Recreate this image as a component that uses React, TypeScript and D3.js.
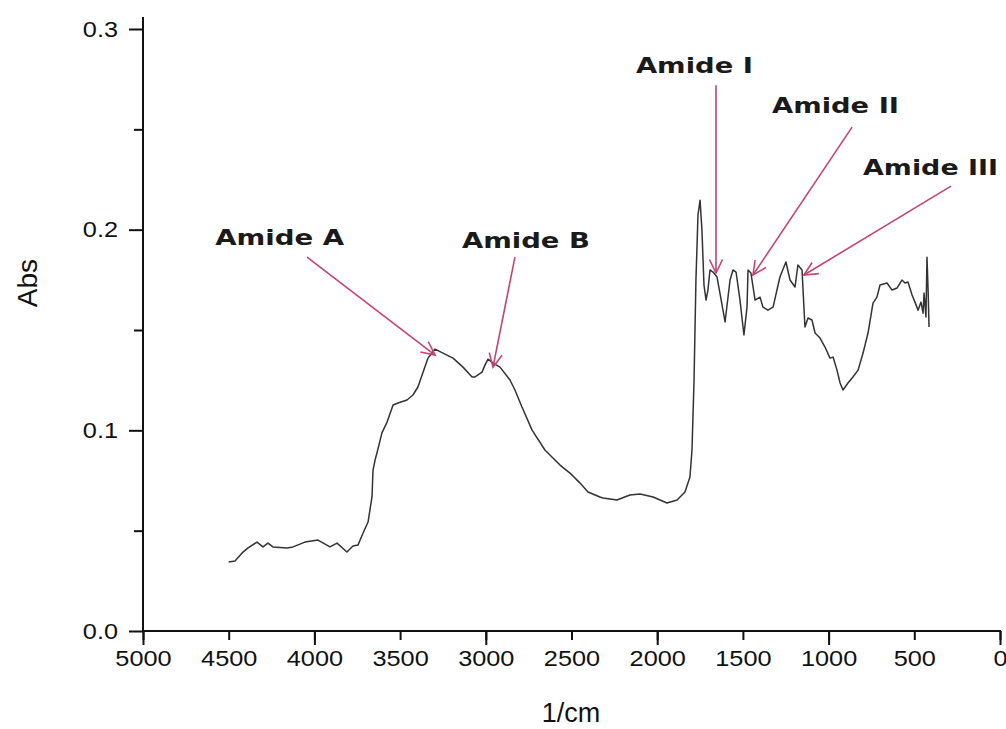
import { useEffect, useRef } from "react";
import * as d3 from "d3";

// FTIR spectrum (wavenumber in 1/cm, absorbance)
const wavenumbers = [
  4500, 4463, 4422, 4387, 4335, 4300, 4271, 4242, 4160, 4125, 4055, 3979, 3909, 3868, 3810, 3775, 3746,
  3716, 3687, 3664, 3658, 3646, 3635, 3606, 3576, 3541, 3512, 3460, 3425, 3396, 3384, 3337, 3296, 3250,
  3191, 3133, 3080, 3063, 3022, 3005, 2987, 2958, 2917, 2859, 2830, 2789, 2730, 2655, 2567, 2509, 2450,
  2404, 2334, 2316, 2235, 2159, 2100, 2024, 1943, 1884, 1838, 1809, 1797, 1785, 1774, 1762, 1750, 1739,
  1727, 1715, 1704, 1692, 1674, 1651, 1634, 1604, 1575, 1558, 1540, 1517, 1494, 1476, 1470, 1453, 1429,
  1400, 1383, 1354, 1324, 1284, 1249, 1225, 1196, 1179, 1155, 1138, 1120, 1097, 1079, 1050, 1021, 992,
  974, 951, 933, 916, 887, 858, 828, 799, 770, 741, 718, 700, 659, 630, 601, 572, 554, 537, 513, 496,
  478, 461, 449, 443, 432, 426, 420, 414,
];
const absorbance = [
  0.0344, 0.0349, 0.0389, 0.0414, 0.0443, 0.0419, 0.0438, 0.0419, 0.0414, 0.0419, 0.0443, 0.0453, 0.0419,
  0.0438, 0.0394, 0.0424, 0.0428, 0.0488, 0.0543, 0.0668, 0.0802, 0.0852, 0.0887, 0.0987, 0.1041, 0.1126,
  0.1136, 0.1151, 0.1176, 0.1216, 0.1246, 0.136, 0.1405, 0.1385, 0.136, 0.1315, 0.1266, 0.1266, 0.129,
  0.1325, 0.1355, 0.1335, 0.1315, 0.1251, 0.1201, 0.1116, 0.1001, 0.0902, 0.0827, 0.0787, 0.0737, 0.0693,
  0.0668, 0.0663, 0.0653, 0.0678, 0.0683, 0.0668, 0.0638, 0.0653, 0.0693, 0.0767, 0.0902, 0.1251, 0.1749,
  0.2073, 0.2147, 0.1998, 0.1724, 0.1649, 0.1699, 0.1799, 0.1789, 0.1764, 0.1684, 0.154, 0.1749, 0.1799,
  0.1789, 0.1649, 0.1475, 0.1614, 0.1799, 0.1784, 0.1649, 0.1664, 0.1614, 0.1599, 0.1614, 0.1764, 0.1839,
  0.1749, 0.1714, 0.1824, 0.1799, 0.1515, 0.156, 0.155, 0.1485, 0.146, 0.1415, 0.136, 0.1365, 0.13, 0.1236,
  0.1201, 0.1236, 0.1266, 0.13, 0.1385, 0.1485, 0.1634, 0.1664, 0.1724, 0.1734, 0.1699, 0.1709, 0.1749,
  0.1734, 0.1739, 0.1674, 0.1639, 0.1599, 0.1639, 0.1584, 0.1684, 0.1565, 0.1863, 0.1714, 0.1515,
];

const xTickLabels = [5000, 4500, 4000, 3500, 3000, 2500, 2000, 1500, 1000, 500, 0];
const xMajorTicks = [5000, 4000, 3000, 2000, 1000, 0];
const yTickLabels = [0, 0.1, 0.2, 0.3];
const yMinorTicks = [0.05, 0.15, 0.25];

// band annotations: label, arrow tip and arrow tail (data coords), label anchor
const bandLabels = ["Amide A", "Amide B", "Amide I", "Amide II", "Amide III"];
const tipWn = [3296, 2958, 1657, 1441, 1144];
const tipAbs = [0.1375, 0.1315, 0.1784, 0.1774, 0.1774];
const tailWn = [4043, 2830, 1657, 863, 286];
const tailAbs = [0.1863, 0.1863, 0.272, 0.2511, 0.2217];
const labelWn = [4579, 3139, 2124, 1330, 799];
const labelAbs = [0.1923, 0.1908, 0.278, 0.2581, 0.2272];
const labelWidths = [129, 128, 117, 127, 135];

const W = 1006;
const H = 729;

const App = () => {
  const svgRef = useRef<SVGSVGElement>(null);

  useEffect(() => {
    const svg = d3.select(svgRef.current);
    svg.selectAll("*").remove();

    const x = d3.scaleLinear().domain([5000, 0]).range([143, 1000]);
    const y = d3.scaleLinear().domain([0, 0.3]).range([631, 29]);

    svg.append("rect").attr("width", W).attr("height", H).attr("fill", "#fff");

    const tickFont = "'Liberation Sans', Arial, sans-serif";

    // x axis
    const gx = svg.append("g").attr("transform", "translate(0,631)");
    gx.append("g")
      .call(d3.axisBottom(x).tickValues(xTickLabels).tickSize(9).tickFormat(() => ""))
      .call((g) => g.select(".domain").remove());
    gx.append("g")
      .call(d3.axisBottom(x).tickValues(xMajorTicks).tickSize(14).tickFormat(() => ""))
      .call((g) => g.select(".domain").remove());
    gx.append("g")
      .call(d3.axisBottom(x).tickValues(xTickLabels).tickSize(0).tickPadding(19).tickFormat(d3.format("d")))
      .call((g) => g.select(".domain").remove());
    gx.append("line").attr("x1", 142).attr("x2", 1001).attr("y1", 0).attr("y2", 0);

    // y axis
    const gy = svg.append("g").attr("transform", "translate(143,0)");
    gy.append("g")
      .call(d3.axisLeft(y).tickValues(yMinorTicks).tickSize(9).tickFormat(() => ""))
      .call((g) => g.select(".domain").remove());
    gy.append("g")
      .call(d3.axisLeft(y).tickValues(yTickLabels).tickSize(14).tickFormat(() => ""))
      .call((g) => g.select(".domain").remove());
    gy.append("g")
      .call(d3.axisLeft(y).tickValues(yTickLabels).tickSize(0).tickPadding(25).tickFormat(d3.format(".1f")))
      .call((g) => g.select(".domain").remove());
    gy.append("line").attr("x1", 0).attr("x2", 0).attr("y1", 17).attr("y2", 632);

    svg.selectAll("line").attr("stroke", "#111").attr("stroke-width", 2);
    svg.selectAll(".tick text")
      .attr("fill", "#111")
      .attr("font-family", tickFont)
      .attr("font-size", 22)
      .each(function () {
        const t = this as SVGTextElement;
        const len = t.getComputedTextLength();
        d3.select(t).attr("textLength", len * 1.15).attr("lengthAdjust", "spacingAndGlyphs");
      });

    // axis titles
    svg.append("text")
      .attr("transform", "translate(37,283) rotate(-90)")
      .attr("text-anchor", "middle")
      .attr("font-family", tickFont)
      .attr("font-size", 28)
      .attr("fill", "#111")
      .text("Abs");
    svg.append("text")
      .attr("x", 571)
      .attr("y", 722)
      .attr("text-anchor", "middle")
      .attr("font-family", tickFont)
      .attr("font-size", 27)
      .attr("fill", "#111")
      .text("1/cm");

    // spectrum
    const pts = wavenumbers.map((w, i) => [w, absorbance[i]] as [number, number]);
    const line = d3.line<[number, number]>()
      .x((d) => x(d[0]))
      .y((d) => y(d[1]))
      .curve(d3.curveLinear);
    svg.append("path")
      .datum(pts)
      .attr("d", line)
      .attr("fill", "none")
      .attr("stroke", "#333")
      .attr("stroke-width", 1.5)
      .attr("stroke-linejoin", "round");

    // annotations
    const pink = "#c8436f";
    bandLabels.forEach((lab, i) => {
      const x0 = x(tailWn[i]);
      const y0 = y(tailAbs[i]);
      const x1 = x(tipWn[i]);
      const y1 = y(tipAbs[i]);
      const ang = Math.atan2(y1 - y0, x1 - x0);
      const hl = 15;
      const spread = 0.45;
      svg.append("line")
        .attr("x1", x0).attr("y1", y0).attr("x2", x1).attr("y2", y1)
        .attr("stroke", pink).attr("stroke-width", 1.6);
      svg.append("path")
        .attr("d", `M${x1 - hl * Math.cos(ang - spread)},${y1 - hl * Math.sin(ang - spread)}L${x1},${y1}L${x1 - hl * Math.cos(ang + spread)},${y1 - hl * Math.sin(ang + spread)}`)
        .attr("fill", "none")
        .attr("stroke", pink)
        .attr("stroke-width", 1.6);
      svg.append("text")
        .attr("x", x(labelWn[i]))
        .attr("y", y(labelAbs[i]))
        .attr("font-family", "'DejaVu Sans', sans-serif")
        .attr("font-weight", "bold")
        .attr("font-size", 22)
        .attr("fill", "#1a1a1a")
        .attr("textLength", labelWidths[i])
        .attr("lengthAdjust", "spacingAndGlyphs")
        .text(lab);
    });

    return () => {
      svg.selectAll("*").remove();
    };
  }, []);

  return (
    <svg
      ref={svgRef}
      width={W}
      height={H}
      style={{ position: "absolute", left: 0, top: 0, display: "block" }}
    />
  );
};

export default App;
